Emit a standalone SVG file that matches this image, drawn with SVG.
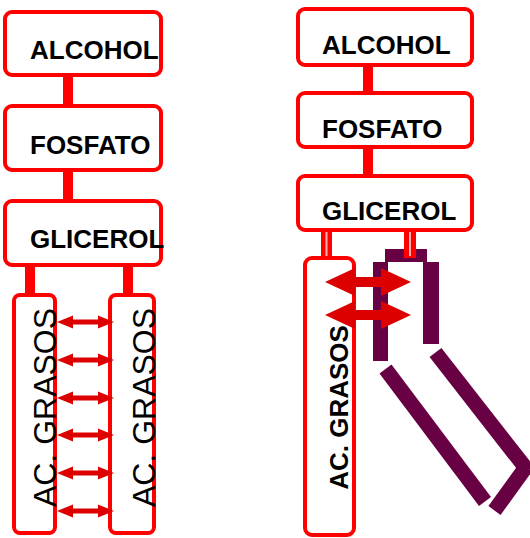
<svg xmlns="http://www.w3.org/2000/svg" width="530" height="538" viewBox="0 0 530 538">
<style>
.box{fill:#fff;stroke:#ff0000;stroke-width:4}
.lbl{font-family:"Liberation Sans",Arial,sans-serif;font-weight:bold;font-size:26px;fill:#000}
.vt{font-family:"Liberation Sans",Arial,sans-serif;font-size:32px;fill:#000;text-anchor:middle}
.vtb{font-family:"Liberation Sans",Arial,sans-serif;font-size:26px;font-weight:bold;fill:#000;text-anchor:middle}
.bond{fill:#ff0000}
.arr{fill:#dd0000}
.pur{fill:none;stroke:#680044;stroke-width:15}
</style>
<defs>
<path id="arrS" d="M57,0 L73,-6.5 L73,-2.5 L98,-2.5 L98,-6.5 L114,0 L98,6.5 L98,2.5 L73,2.5 L73,6.5 Z"/>
<path id="arrB" d="M325,0 L355,-14 L355,-5 L381,-5 L381,-14 L411,0 L381,14 L381,5 L355,5 L355,14 Z"/>
</defs>
<rect width="530" height="538" fill="#fff"/>

<g id="connectors">
  <rect class="bond" x="63" y="74" width="10" height="33"/>
  <rect class="bond" x="63" y="169" width="10" height="33"/>
  <rect class="bond" x="25" y="264" width="10" height="33"/>
  <rect class="bond" x="123" y="264" width="10" height="33"/>
  <rect class="bond" x="363" y="65" width="10" height="28"/>
  <rect class="bond" x="363" y="147" width="10" height="31"/>
</g>

<g id="purple-chain">
  <polygon fill="#680044" points="385,249 427,249 427,262 439,262 439,344 423,344 423,262 388,262 388,361 373,361 373,262 385,262"/>
  <line class="pur" x1="385.5" y1="369" x2="485" y2="501.5"/>
  <line class="pur" x1="435.5" y1="352.5" x2="528" y2="471"/>
  <line class="pur" x1="494.5" y1="510.5" x2="526" y2="467"/>
</g>

<g id="left-alcohol"><rect class="box" x="5" y="12" width="156" height="63" rx="7"/><text class="lbl" x="30" y="59">ALCOHOL</text></g>
<g id="left-fosfato"><rect class="box" x="5" y="106" width="156" height="64" rx="7"/><text class="lbl" x="30" y="154">FOSFATO</text></g>
<g id="left-glicerol"><rect class="box" x="5" y="201" width="156" height="64" rx="7"/><text class="lbl" x="30" y="248">GLICEROL</text></g>
<g id="left-acgrasos-1"><rect class="box" x="14" y="295" width="41" height="238" rx="6"/><text class="vt" transform="translate(56,407.5) rotate(-90)">AC. GRASOS</text></g>
<g id="left-acgrasos-2"><rect class="box" x="110" y="295" width="44" height="238" rx="6"/><text class="vt" transform="translate(155,407.5) rotate(-90)">AC. GRASOS</text></g>

<g id="right-alcohol"><rect class="box" x="298" y="9" width="174" height="56" rx="7"/><text class="lbl" x="322" y="54">ALCOHOL</text></g>
<g id="right-fosfato"><rect class="box" x="298" y="93" width="174" height="54" rx="7"/><text class="lbl" x="322" y="138">FOSFATO</text></g>
<g id="right-glicerol"><rect class="box" x="298" y="176" width="174" height="54" rx="7"/><text class="lbl" x="322" y="220">GLICEROL</text></g>

<g id="right-legs">
  <rect class="bond" x="321" y="232" width="11" height="26"/>
  <rect x="325.5" y="232" width="2" height="26" fill="#ffb0b0"/>
  <rect class="bond" x="404" y="232" width="12" height="26"/>
  <rect x="409" y="232" width="2" height="24" fill="#ffb0b0"/>
</g>

<g id="right-acgrasos"><rect class="box" x="305" y="258" width="49" height="277" rx="7"/><text class="vtb" transform="translate(348,407.5) rotate(-90)">AC. GRASOS</text></g>

<g id="arrows">
  <use href="#arrS" class="arr" transform="translate(0,322)"/>
  <use href="#arrS" class="arr" transform="translate(0,360)"/>
  <use href="#arrS" class="arr" transform="translate(0,398)"/>
  <use href="#arrS" class="arr" transform="translate(0,435)"/>
  <use href="#arrS" class="arr" transform="translate(0,473)"/>
  <use href="#arrS" class="arr" transform="translate(0,511)"/>
  <use href="#arrB" class="arr" transform="translate(0,282)"/>
  <use href="#arrB" class="arr" transform="translate(0,315)"/>
</g>
</svg>
